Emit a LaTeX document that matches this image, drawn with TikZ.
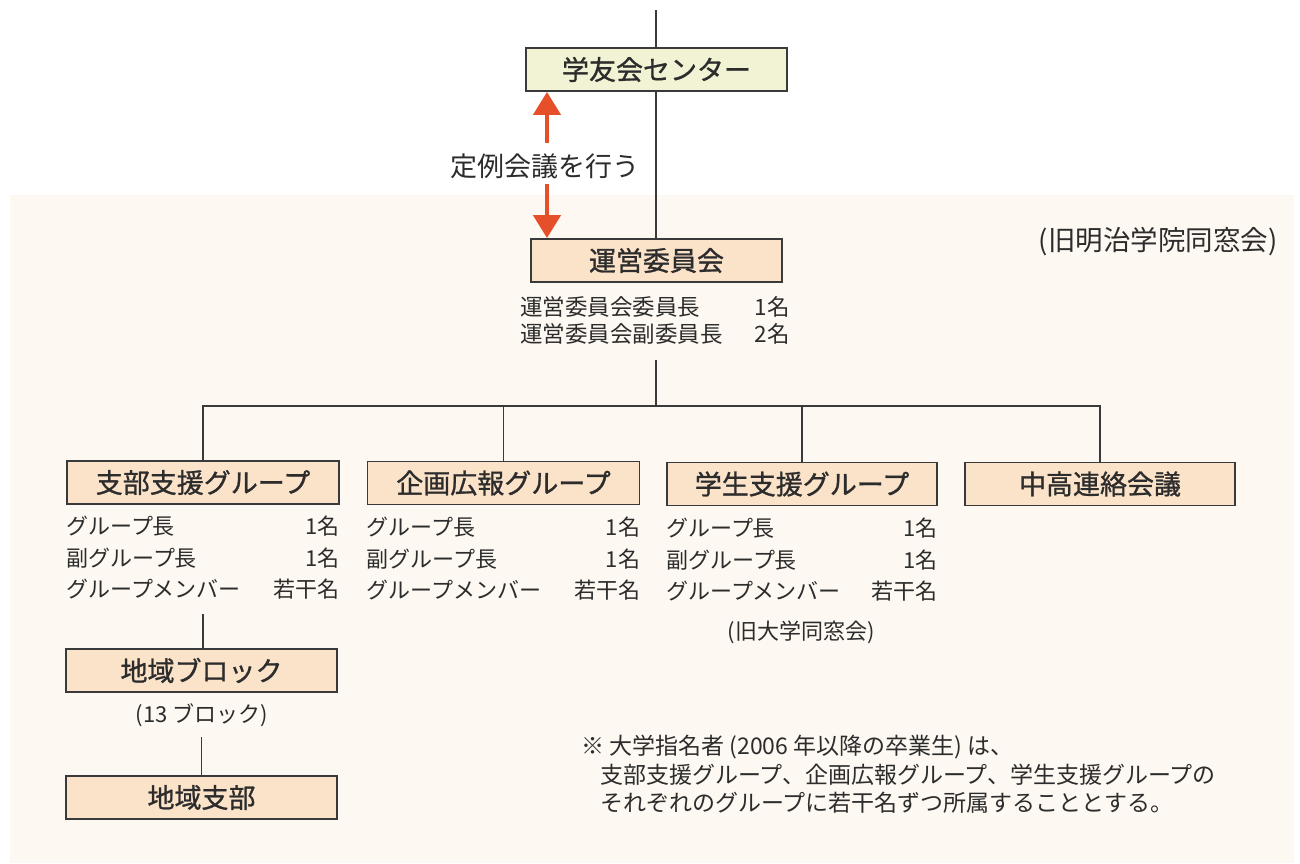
\documentclass[tikz,border=0pt]{standalone}
\usepackage{fontspec}
\usetikzlibrary{arrows.meta,calc}
\newfontfamily\jp{Noto Sans CJK JP}
\newfontfamily\jpb[FakeBold=1.0]{Noto Sans CJK JP}
\definecolor{panelc}{HTML}{FDF8F1}
\definecolor{topfill}{HTML}{F2F2D4}
\definecolor{peach}{HTML}{FBE3CA}
\definecolor{edge}{HTML}{3A3A3A}
\definecolor{ink}{HTML}{2C2C2C}
\definecolor{arrowc}{HTML}{E5502B}
\tikzset{
  box/.style={draw=edge, line width=1.8pt, minimum height=43pt, inner sep=0pt,
    text=ink, font=\jpb\fontsize{27}{30}\selectfont},
  pbox/.style={box, fill=peach},
  tbox/.style={box, fill=topfill},
  det/.style={text=ink, inner sep=0pt, font=\jp\fontsize{22}{24}\selectfont},
  note/.style={text=ink, inner sep=0pt, font=\jp\fontsize{23}{26}\selectfont},
  conn/.style={draw=edge, line width=1.7pt},
  arr/.style={draw=arrowc, line width=4.5pt, -{Triangle[width=27pt,length=23pt]}, color=arrowc}
}
\begin{document}
\begin{tikzpicture}[x=1pt,y=-1pt]
\useasboundingbox (0,0) rectangle (1300,863);
\fill[panelc] (10,195) rectangle (1294,863);

% boxes
\node[tbox, minimum width=261pt] (top) at (656.5,69.5) {学友会センター};
\node[pbox, minimum width=251pt] (unei) at (656.5,260.5) {運営委員会};
\node[pbox, minimum width=272pt] (g1) at (203,482.5) {支部支援グループ};
\node[pbox, minimum width=272pt] (g2) at (503.5,483) {企画広報グループ};
\node[pbox, minimum width=270pt] (g3) at (802,484) {学生支援グループ};
\node[pbox, minimum width=270pt] (g4) at (1100,484) {中高連絡会議};
\node[pbox, minimum width=271pt] (block) at (201.5,670.5) {地域ブロック};
\node[pbox, minimum width=271pt] (shibu) at (201.5,797.5) {地域支部};

% meeting arrows
\node[note, font=\jp\fontsize{27}{30}\selectfont] (meet) at (545,166) {定例会議を行う};
\coordinate (a1) at (547,143);
\coordinate (a2) at (547,184);
\draw[arr] (a1) -- (top.south -| a1);
\draw[arr] (a2) -- (unei.north -| a2);

% labels
\node[note, font=\jp\fontsize{27.5}{30}\selectfont] (meiji) at (1158,242) {(旧明治学院同窓会)};

% unei details
\node[det, anchor=west, font=\jp\fontsize{22.5}{26}\selectfont] (u1l) at (520,307) {運営委員会委員長};
\node[det, anchor=east, font=\jp\fontsize{22.5}{26}\selectfont] (u1r) at (790,307) {1名};
\node[det, anchor=west, font=\jp\fontsize{22.5}{26}\selectfont] (u2l) at (520,334) {運営委員会副委員長};
\node[det, anchor=east, font=\jp\fontsize{22.5}{26}\selectfont] (u2r) at (790,334) {2名};

% group details
\foreach \g in {g1,g2,g3} {
  \node[det, anchor=west] (\g a) at ($(\g.west)+(0,44)$) {グループ長};
  \node[det, anchor=east] (\g ar) at ($(\g.east)+(0,44)$) {1名};
  \node[det, anchor=west] (\g b) at ($(\g.west)+(0,76)$) {副グループ長};
  \node[det, anchor=east] (\g br) at ($(\g.east)+(0,76)$) {1名};
  \node[det, anchor=west] (\g c) at ($(\g.west)+(0,107)$) {グループメンバー};
  \node[det, anchor=east] (\g cr) at ($(\g.east)+(0,107)$) {若干名};
}
\node[det] (daigaku) at (801,632) {(旧大学同窓会)};
\node[det] (n13) at (202,715) {(13 ブロック)};

% note
\node[note, anchor=west] (nt1) at (581,747) {※ 大学指名者 (2006 年以降の卒業生) は、};
\node[note, anchor=west] (nt2) at (600,775) {支部支援グループ、企画広報グループ、学生支援グループの};
\node[note, anchor=west] (nt3) at (600,803) {それぞれのグループに若干名ずつ所属することとする。};

% connectors
\coordinate (topin) at (656,10);
\draw[conn] (topin) -- (top.north -| topin);
\draw[conn] (top.south -| topin) -- (unei.north -| topin);
\coordinate (ustem) at (656,360);
\coordinate (bus) at (656,406);
\draw[conn] (ustem) -- (bus);
\draw[conn] (g1.north) -- (g1.north |- bus) -- (g4.north |- bus) -- (g4.north);
\draw[conn] (g2.north |- bus) -- (g2.north);
\draw[conn] (g3.north |- bus) -- (g3.north);
\coordinate (g1stem) at (203,614);
\draw[conn] (g1stem) -- (block.north -| g1stem);
\coordinate (bstem) at (201.5,737);
\draw[conn] (bstem) -- (shibu.north);
\end{tikzpicture}
\end{document}
